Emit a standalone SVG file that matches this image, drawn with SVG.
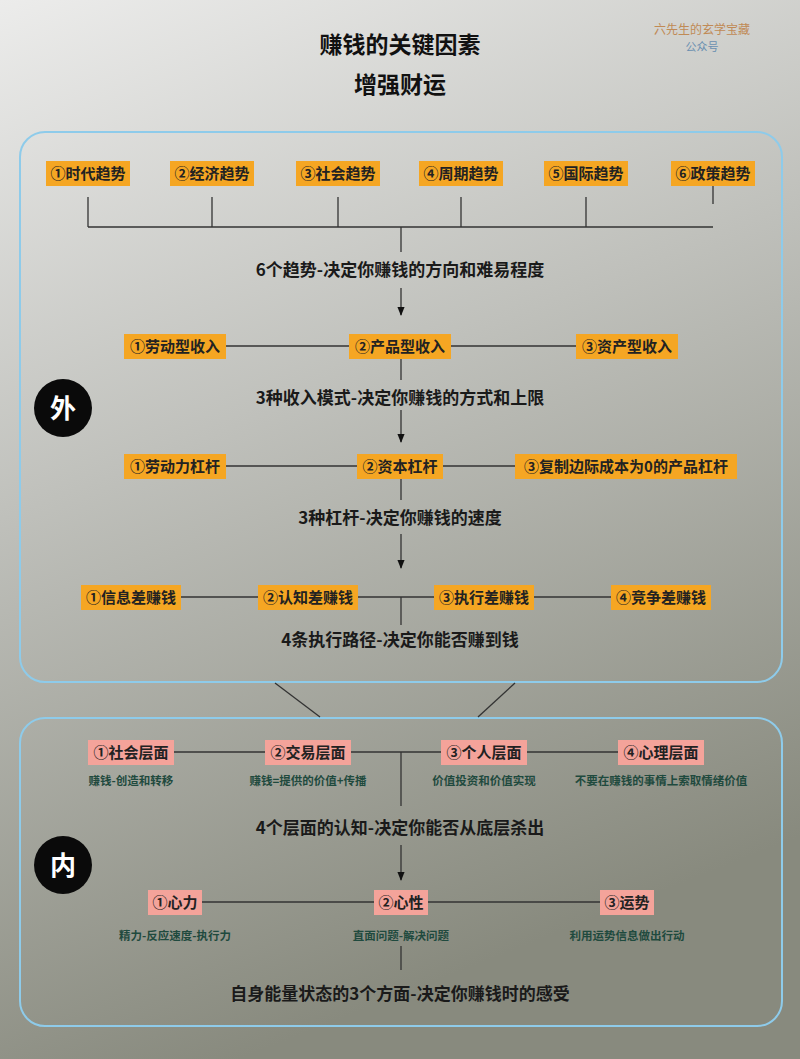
<svg xmlns="http://www.w3.org/2000/svg" width="800" height="1059" viewBox="0 0 800 1059">
<defs>
<linearGradient id="bg" x1="0" y1="0" x2="0.3" y2="1">
<stop offset="0" stop-color="#ececeb"/><stop offset="0.45" stop-color="#bfc0bb"/><stop offset="1" stop-color="#888a7e"/>
</linearGradient>
<marker id="ah" viewBox="0 0 10 10" refX="9" refY="5" markerWidth="7" markerHeight="9" orient="auto"><path d="M0,1 L10,5 L0,9 z" fill="#111"/></marker>
</defs>
<style>
text{font-family:"Noto Sans CJK SC","Noto Sans",sans-serif;text-anchor:middle}
.o{fill:#f5a623}.p{fill:#f4a39a}
.b{font-size:15px;font-weight:bold;fill:#222}
.m{font-size:17px;font-weight:bold;fill:#1a1a1a}
.s{font-size:11.5px;font-weight:bold;fill:#1f4a3e}
.ln line,.ln path{stroke:#333;stroke-width:1.3;fill:none}
.fr{fill:none;stroke:#8ecbea;stroke-width:2}
</style>
<rect width="800" height="1059" fill="url(#bg)"/>
<text x="400" y="53" style="font-size:23px;font-weight:bold;fill:#111">赚钱的关键因素</text>
<text x="400" y="93" style="font-size:23px;font-weight:bold;fill:#111">增强财运</text>
<text x="702" y="34" style="font-size:12px;fill:#c08a55">六先生的玄学宝藏</text>
<text x="702" y="51" style="font-size:11px;fill:#6a8fb0">公众号</text>
<rect class="fr" x="20" y="132" width="762" height="550" rx="25"/>
<rect class="fr" x="20" y="718" width="762" height="308" rx="25"/>
<g class="ln">
<line x1="88" y1="197" x2="88" y2="227"/><line x1="212" y1="197" x2="212" y2="227"/><line x1="338" y1="197" x2="338" y2="227"/><line x1="461" y1="197" x2="461" y2="227"/><line x1="586" y1="197" x2="586" y2="227"/><line x1="713" y1="185" x2="713" y2="204"/>
<line x1="88" y1="227" x2="713" y2="227"/><line x1="401" y1="227" x2="401" y2="252"/>
<line x1="401" y1="288" x2="401" y2="315" marker-end="url(#ah)"/>
<line x1="175" y1="346" x2="627" y2="346"/><line x1="401" y1="346" x2="401" y2="380"/>
<line x1="401" y1="410" x2="401" y2="442" marker-end="url(#ah)"/>
<line x1="175" y1="466" x2="626" y2="466"/><line x1="401" y1="466" x2="401" y2="500"/>
<line x1="401" y1="534" x2="401" y2="568" marker-end="url(#ah)"/>
<line x1="131" y1="597" x2="661" y2="597"/><line x1="401" y1="597" x2="401" y2="625"/>
<line x1="275" y1="683" x2="320" y2="717"/><line x1="515" y1="683" x2="478" y2="717"/>
<line x1="131" y1="752" x2="661" y2="752"/><line x1="401" y1="752" x2="401" y2="806"/>
<line x1="401" y1="845" x2="401" y2="880" marker-end="url(#ah)"/>
<line x1="175" y1="902" x2="627" y2="902"/><line x1="401" y1="946" x2="401" y2="970"/>
</g>
<g id="r1">
<rect class="o" x="46" y="161" width="84" height="25"/><text class="b" x="88" y="179">①时代趋势</text>
<rect class="o" x="170" y="161" width="84" height="25"/><text class="b" x="212" y="179">②经济趋势</text>
<rect class="o" x="296" y="161" width="84" height="25"/><text class="b" x="338" y="179">③社会趋势</text>
<rect class="o" x="419" y="161" width="84" height="25"/><text class="b" x="461" y="179">④周期趋势</text>
<rect class="o" x="544" y="161" width="84" height="25"/><text class="b" x="586" y="179">⑤国际趋势</text>
<rect class="o" x="671" y="161" width="84" height="25"/><text class="b" x="713" y="179">⑥政策趋势</text>
</g>
<text class="m" x="400" y="276">6个趋势-决定你赚钱的方向和难易程度</text>
<g id="r2">
<rect class="o" x="124" y="334" width="102" height="25"/><text class="b" x="175" y="352">①劳动型收入</text>
<rect class="o" x="349" y="334" width="102" height="25"/><text class="b" x="400" y="352">②产品型收入</text>
<rect class="o" x="576" y="334" width="102" height="25"/><text class="b" x="627" y="352">③资产型收入</text>
</g>
<text class="m" x="400" y="404">3种收入模式-决定你赚钱的方式和上限</text>
<g id="r3">
<rect class="o" x="124" y="454" width="102" height="25"/><text class="b" x="175" y="472">①劳动力杠杆</text>
<rect class="o" x="357" y="454" width="86" height="25"/><text class="b" x="400" y="472">②资本杠杆</text>
<rect class="o" x="515" y="454" width="222" height="25"/><text class="b" x="626" y="472">③复制边际成本为0的产品杠杆</text>
</g>
<text class="m" x="400" y="524">3种杠杆-决定你赚钱的速度</text>
<g id="r4">
<rect class="o" x="81" y="585" width="100" height="25"/><text class="b" x="131" y="603">①信息差赚钱</text>
<rect class="o" x="258" y="585" width="100" height="25"/><text class="b" x="308" y="603">②认知差赚钱</text>
<rect class="o" x="434" y="585" width="100" height="25"/><text class="b" x="484" y="603">③执行差赚钱</text>
<rect class="o" x="611" y="585" width="100" height="25"/><text class="b" x="661" y="603">④竞争差赚钱</text>
</g>
<text class="m" x="400" y="646">4条执行路径-决定你能否赚到钱</text>
<g id="wai"><circle cx="63" cy="408" r="29" fill="#0a0a0a"/><text x="63" y="418" style="font-size:26px;font-weight:bold;fill:#fff">外</text></g>
<g id="r5">
<rect class="p" x="88" y="740" width="86" height="25"/><text class="b" x="131" y="758">①社会层面</text>
<rect class="p" x="265" y="740" width="86" height="25"/><text class="b" x="308" y="758">②交易层面</text>
<rect class="p" x="441" y="740" width="86" height="25"/><text class="b" x="484" y="758">③个人层面</text>
<rect class="p" x="618" y="740" width="86" height="25"/><text class="b" x="661" y="758">④心理层面</text>
<text class="s" x="131" y="785">赚钱-创造和转移</text>
<text class="s" x="308" y="785">赚钱=提供的价值+传播</text>
<text class="s" x="484" y="785">价值投资和价值实现</text>
<text class="s" x="661" y="785">不要在赚钱的事情上索取情绪价值</text>
</g>
<text class="m" x="400" y="834">4个层面的认知-决定你能否从底层杀出</text>
<g id="nei"><circle cx="63" cy="865" r="29" fill="#0a0a0a"/><text x="63" y="875" style="font-size:26px;font-weight:bold;fill:#fff">内</text></g>
<g id="r6">
<rect class="p" x="148" y="890" width="54" height="25"/><text class="b" x="175" y="908">①心力</text>
<rect class="p" x="374" y="890" width="54" height="25"/><text class="b" x="401" y="908">②心性</text>
<rect class="p" x="600" y="890" width="54" height="25"/><text class="b" x="627" y="908">③运势</text>
<text class="s" x="175" y="940">精力-反应速度-执行力</text>
<text class="s" x="401" y="940">直面问题-解决问题</text>
<text class="s" x="627" y="940">利用运势信息做出行动</text>
</g>
<text class="m" x="400" y="1000">自身能量状态的3个方面-决定你赚钱时的感受</text>
</svg>
